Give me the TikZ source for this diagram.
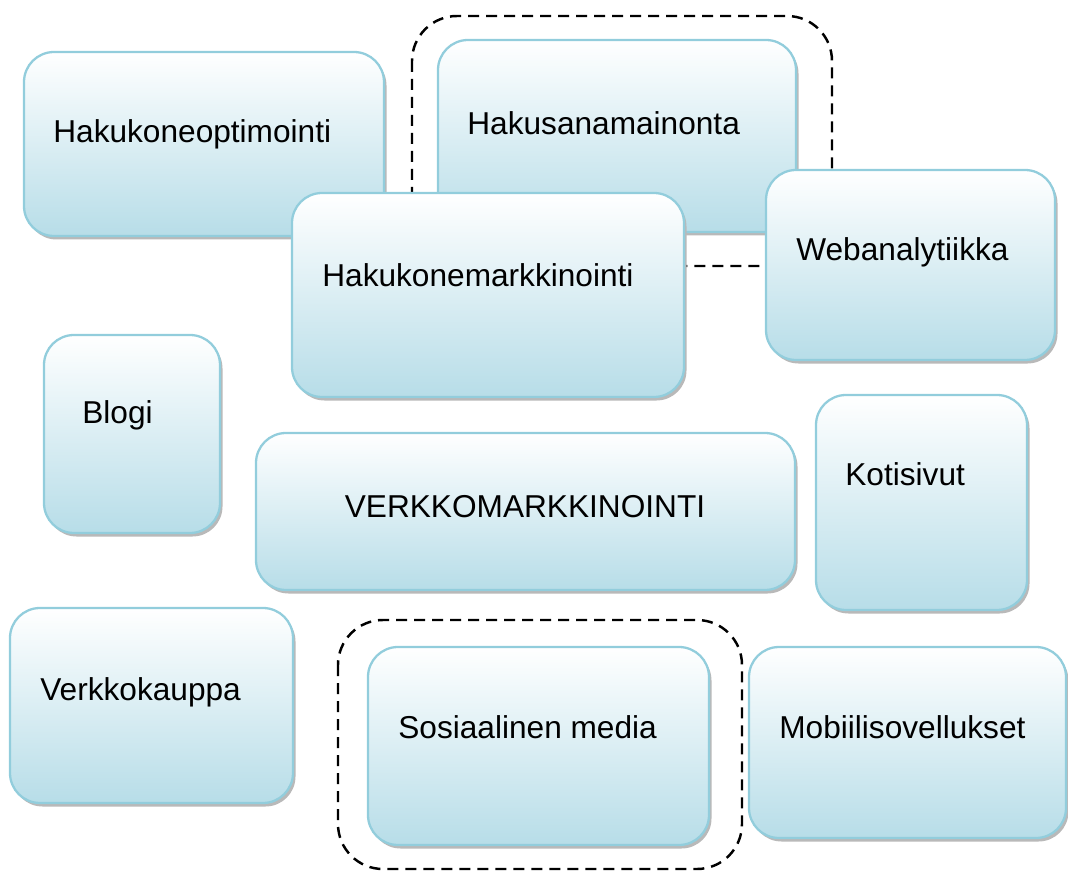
\documentclass[tikz,border=0pt]{standalone}
\usepackage{fontspec}
\setmainfont{Liberation Sans}
\usetikzlibrary{shadows}

\definecolor{boxline}{RGB}{146,205,220}
\definecolor{boxfill}{RGB}{183,221,232}

\tikzset{
  box/.style={draw=boxline, line width=1.3pt, rounded corners=0.6cm,
    top color=white, bottom color=boxfill, inner sep=0pt,
    drop shadow={shadow xshift=0.05cm, shadow yshift=-0.07cm, fill=gray!55, opacity=1}},
  dashframe/.style={draw=black, line width=1.4pt, dash pattern=on 0.22cm off 0.14cm,
    rounded corners=0.9cm},
  lbl/.style={font=\fontsize{18}{22}\selectfont, inner sep=0pt, anchor=base west}
}

\begin{document}
\begin{tikzpicture}
      \useasboundingbox (0,0) rectangle (21.36,-17.44);
      % upper group
      \node[box, minimum width=7.2cm, minimum height=3.68cm] (hko) at (4.08,-2.88) {};
      \node[lbl] (thko) at (1.06,-2.85) {Hakukoneoptimointi};
      \coordinate (D1a) at (8.24,-0.32);
      \coordinate (D1b) at (16.64,-5.32);
      \draw[dashframe] (D1a) rectangle (D1b);
      \node[box, minimum width=7.16cm, minimum height=3.84cm] (hsm) at (12.34,-2.72) {};
      \node[lbl] (thsm) at (9.34,-2.70) {Hakusanamainonta};
      \node[box, minimum width=7.84cm, minimum height=4.08cm] (hkm) at (9.76,-5.90) {};
      \node[lbl] (thkm) at (6.44,-5.72) {Hakukonemarkkinointi};
      \node[box, minimum width=5.78cm, minimum height=3.8cm] (web) at (18.21,-5.30) {};
      \node[lbl] (tweb) at (15.92,-5.22) {Webanalytiikka};
      % middle row
      \node[box, minimum width=3.52cm, minimum height=3.96cm] (blogi) at (2.64,-8.68) {};
      \node[lbl] (tblogi) at (1.64,-8.46) {Blogi};
      \node[box, minimum width=10.78cm, minimum height=3.14cm] (verkko) at (10.51,-10.23) {};
      \node[lbl, anchor=base] (tverkko) at (10.50,-10.34) {VERKKOMARKKINOINTI};
      \node[box, minimum width=4.22cm, minimum height=4.3cm] (koti) at (18.43,-10.05) {};
      \node[lbl] (tkoti) at (16.90,-9.70) {Kotisivut};
      % lower row
      \node[box, minimum width=5.66cm, minimum height=3.9cm] (vkp) at (3.03,-14.11) {};
      \node[lbl] (tvkp) at (0.80,-14.00) {Verkkokauppa};
      \coordinate (D2a) at (6.76,-12.40);
      \coordinate (D2b) at (14.84,-17.38);
      \draw[dashframe] (D2a) rectangle (D2b);
      \node[box, minimum width=6.82cm, minimum height=3.96cm] (some) at (10.77,-14.92) {};
      \node[lbl] (tsome) at (7.96,-14.76) {Sosiaalinen media};
      \node[box, minimum width=6.34cm, minimum height=3.82cm] (mobi) at (18.15,-14.85) {};
      \node[lbl] (tmobi) at (15.58,-14.76) {Mobiilisovellukset};
    \end{tikzpicture}
\end{document}
